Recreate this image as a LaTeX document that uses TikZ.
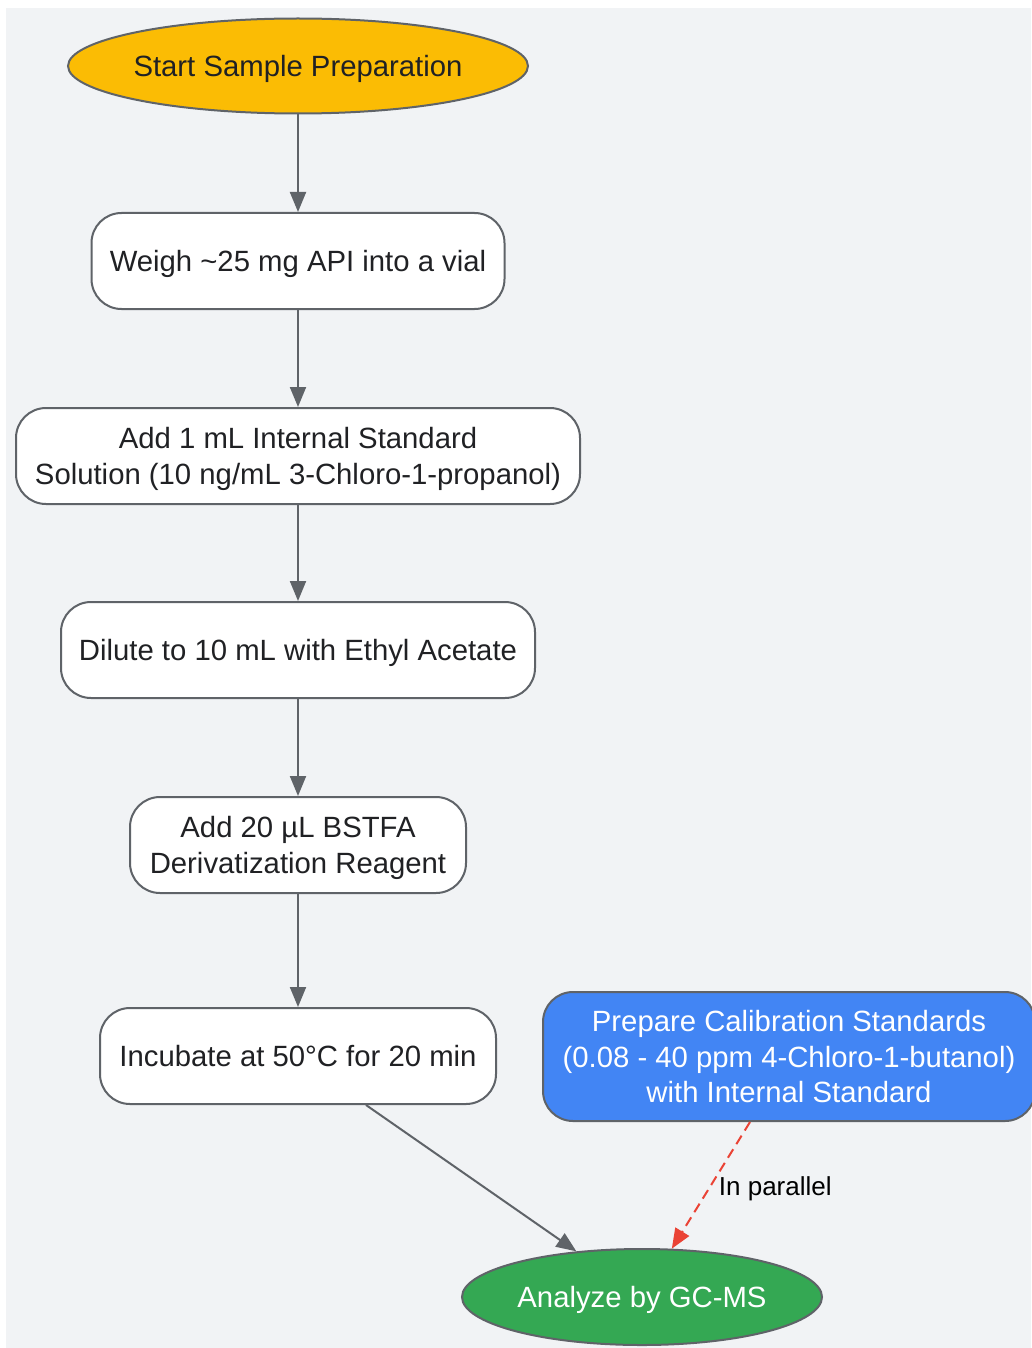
\documentclass[tikz,border=0pt]{standalone}
\usepackage{fontspec}
\setmainfont{Liberation Sans}
\usetikzlibrary{shapes.geometric,arrows.meta}
\definecolor{bgc}{HTML}{F1F3F5}
\definecolor{edgec}{HTML}{5F6368}
\definecolor{txtc}{HTML}{202124}
\definecolor{yel}{HTML}{FBBC04}
\definecolor{blu}{HTML}{4285F4}
\definecolor{grn}{HTML}{34A853}
\definecolor{redc}{HTML}{EA4335}
\tikzset{
  base/.style={draw=edgec, line width=2pt, inner sep=0pt, align=center, text=txtc,
    text depth=0pt, font=\fontsize{29.3pt}{35.7pt}\selectfont},
  stepbox/.style={base, rectangle, rounded corners=30pt, fill=white, minimum height=96pt},
  oval/.style={base, ellipse},
  arr/.style={draw=edgec, line width=2pt, -{Triangle[length=20pt,width=16pt]}},
  darr/.style={draw=redc, line width=2pt, dash pattern=on 10pt off 6pt, -{Triangle[length=20pt,width=16pt]}},
  lbl/.style={inner sep=0pt, text=black, font=\fontsize{26pt}{30pt}\selectfont}
}
\begin{document}
\begin{tikzpicture}[x=1pt,y=-1pt]
\useasboundingbox (0,0) rectangle (1031,1348);
\fill[bgc] (6,8) rectangle (1031,1348);
\node[oval, fill=yel, minimum width=460pt, minimum height=95pt] (start) at (298,66) {\makebox[0pt]{Start Sample Preparation}};
\node[stepbox, minimum width=413pt] (weigh) at (298,261) {Weigh \textasciitilde25 mg API into a vial};
\node[stepbox, minimum width=564pt] (addis) at (298,456) {Add 1 mL Internal Standard\\Solution (10 ng/mL 3-Chloro-1-propanol)};
\node[stepbox, minimum width=474pt] (dilute) at (298,650) {Dilute to 10 mL with Ethyl Acetate};
\node[stepbox, minimum width=336pt] (bstfa) at (298,845) {Add 20 µL BSTFA\\Derivatization Reagent};
\node[stepbox, minimum width=396pt] (incub) at (298,1056) {Incubate at 50°C for 20 min};
\node[stepbox, fill=blu, text=white, minimum width=492pt, minimum height=129pt] (prep) at (789,1056.5) {Prepare Calibration Standards\\(0.08 - 40 ppm 4-Chloro-1-butanol)\\with Internal Standard};
\node[oval, fill=grn, text=white, minimum width=360pt, minimum height=96pt] (gcms) at (642,1297) {\makebox[0pt]{Analyze by GC-MS}};
\draw[arr] (start) -- (weigh);
\draw[arr] (weigh) -- (addis);
\draw[arr] (addis) -- (dilute);
\draw[arr] (dilute) -- (bstfa);
\draw[arr] (bstfa) -- (incub);
\draw[arr] ([xshift=68pt]incub.south) -- (gcms);
\draw[darr] ([xshift=-39pt]prep.south) -- (gcms) node[lbl, pos=0.5, anchor=west, xshift=7pt, yshift=-3pt] (par) {In parallel};
\end{tikzpicture}
\end{document}
